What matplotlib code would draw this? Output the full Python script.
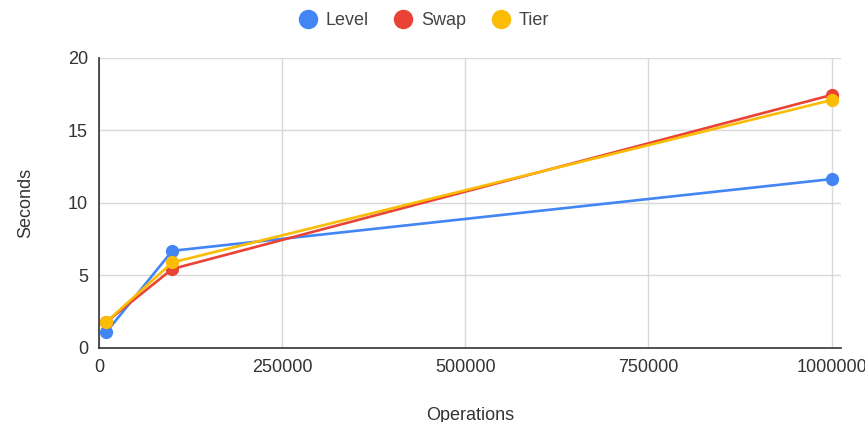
import matplotlib
matplotlib.use('Agg')
import matplotlib.pyplot as plt

# operations vs seconds for the three compaction strategies
operations = [10000, 100000, 1000000]
level = [1.1, 6.7, 11.65]
swap = [1.8, 5.45, 17.45]
tier = [1.8, 5.9, 17.1]
x_ticks = [0, 250000, 500000, 750000, 1000000]
y_ticks = [0, 5, 10, 15, 20]

plt.rcParams['font.family'] = ['Liberation Sans', 'DejaVu Sans']

fig = plt.figure(figsize=(8.65, 4.22), dpi=100)
ax = fig.add_axes([0.1145, 0.1754, 0.8575, 0.6872])

series = [('Level', level, '#4285F4'), ('Swap', swap, '#EA4335'), ('Tier', tier, '#FBBC04')]
for name, vals, col in series:
    ax.plot(operations, vals, color=col, lw=1.9, marker='o', ms=8.5, label=name)

ax.set_xlim(0, 1012500)
ax.set_ylim(0, 20)
ax.set_xticks(x_ticks)
ax.set_xticklabels([str(t) for t in x_ticks])
ax.set_yticks(y_ticks)
ax.grid(True, color='#d9d9d9', lw=1)
ax.set_axisbelow(True)
for s in ['top', 'right']:
    ax.spines[s].set_visible(False)
for s in ['left', 'bottom']:
    ax.spines[s].set_color('#333333')
    ax.spines[s].set_linewidth(1.2)
ax.tick_params(length=0, labelsize=13, colors='#333333', pad=8)

ax.set_xlabel('Operations', fontsize=13, color='#333333', labelpad=22)
ax.set_ylabel('Seconds', fontsize=13, color='#333333', labelpad=24)

fig.legend(loc='upper center', bbox_to_anchor=(0.49, 1.01), ncol=3, frameon=False,
           fontsize=13, handlelength=1.0, handletextpad=0.5, columnspacing=1.4,
           labelcolor='#444444')
leg = fig.legends[0]
for h in leg.legend_handles:
    h.set_linestyle('')
    h.set_markersize(13)

fig.savefig('out.png', dpi=100)
